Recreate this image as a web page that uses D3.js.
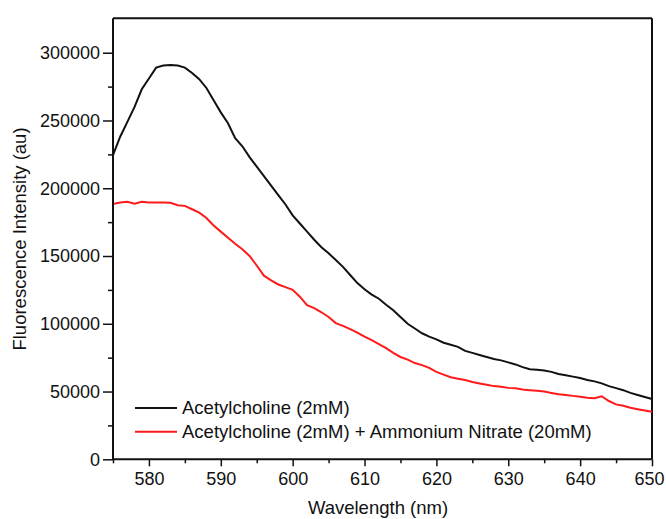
<!DOCTYPE html>
<html>
<head>
<meta charset="utf-8">
<script src="https://cdn.jsdelivr.net/npm/d3@7/dist/d3.min.js"></script>
<style>
  html, body { margin: 0; padding: 0; background: #fff; }
  text { font-family: "Liberation Sans", Arial, Helvetica, sans-serif; fill: #111; }
</style>
</head>
<body>
<svg id="chart" width="666" height="519"></svg>
<script>
const wavelengths = d3.range(575, 651, 1);
const acetylcholine = [
  224500, 238000, 249000, 260000, 273000, 281000, 289000, 290500, 291000, 290500,
  289000, 285000, 280500, 274000, 265000, 256000, 248000, 237000, 231000, 223000,
  216000, 209000, 202000, 195000, 188000, 180000, 174000, 168000, 162000, 156500,
  152000, 147000, 142000, 136000, 130000, 125500, 121500, 118500, 114000, 110000,
  105000, 100000, 96500, 93000, 90500, 88500, 86000, 84500, 83000, 80000,
  78500, 77000, 75500, 74000, 73000, 71500, 70000, 68000, 66500, 66000,
  65500, 64500, 63000, 62000, 61000, 60000, 58500, 57500, 56000, 54000,
  52500, 51000, 49000, 47500, 46000, 44500
];
const acetylcholineNitrate = [
  188400, 189500, 190000, 188500, 190000, 189500, 189500, 189500, 189300, 187500,
  187000, 184500, 182000, 178000, 172500, 168000, 163500, 159000, 155000, 150000,
  143000, 135500, 132000, 129000, 127000, 125000, 120000, 113800, 111500, 108500,
  105000, 100500, 98500, 96000, 93500, 90500, 88000, 85000, 82000, 78500,
  75500, 73500, 71000, 69500, 67500, 64500, 62500, 60500, 59500, 58500,
  57000, 56000, 55000, 54000, 53500, 52700, 52400, 51500, 51000, 50500,
  50000, 49000, 48000, 47500, 46800, 46200, 45500, 45000, 46500, 43000,
  40500, 39500, 38000, 37000, 36000, 35100
];
const seriesNames = ["Acetylcholine (2mM)", "Acetylcholine (2mM) + Ammonium Nitrate (20mM)"];
const seriesColors = ["#111111", "#ff1a1a"];
const xTicks = [580, 590, 600, 610, 620, 630, 640, 650];
const xMinorTicks = [575, 585, 595, 605, 615, 625, 635, 645];
const yTicks = [0, 50000, 100000, 150000, 200000, 250000, 300000];
const yMinorTicks = [25000, 75000, 125000, 175000, 225000, 275000];

const svg = d3.select("#chart");
const L = 113, R = 652, T = 18.3, B = 459.3;
const x = d3.scaleLinear().domain([575, 650]).range([L, R]);
const y = d3.scaleLinear().domain([0, 325400]).range([B, T]);

// frame top/right
svg.append("line").attr("x1", L).attr("x2", R).attr("y1", T).attr("y2", T)
  .attr("stroke", "#111").attr("stroke-width", 2);
svg.append("line").attr("x1", R).attr("x2", R).attr("y1", T).attr("y2", B)
  .attr("stroke", "#111").attr("stroke-width", 2);

// curves
const series = [acetylcholine, acetylcholineNitrate];
const line = d3.line().x((d, i) => x(wavelengths[i])).y(d => y(d));
series.forEach((s, k) => {
  svg.append("path").datum(s).attr("d", line)
    .attr("fill", "none").attr("stroke", seriesColors[k]).attr("stroke-width", 2)
    .attr("stroke-linejoin", "miter");
});

// axes
const xAxis = svg.append("g").attr("transform", `translate(0,${B})`)
  .call(d3.axisBottom(x).tickValues(xTicks).tickSize(7).tickPadding(6).tickFormat(d3.format("d")));
svg.append("g").attr("transform", `translate(0,${B})`)
  .call(d3.axisBottom(x).tickValues(xMinorTicks).tickSize(4).tickFormat(""))
  .call(g => g.select(".domain").remove());
const yAxis = svg.append("g").attr("transform", `translate(${L},0)`)
  .call(d3.axisLeft(y).tickValues(yTicks).tickSize(10).tickPadding(3).tickFormat(d3.format("d")));
svg.append("g").attr("transform", `translate(${L},0)`)
  .call(d3.axisLeft(y).tickValues(yMinorTicks).tickSize(5).tickFormat(""))
  .call(g => g.select(".domain").remove());

svg.selectAll(".domain").attr("stroke", "#111").attr("stroke-width", 2);
svg.selectAll(".tick line").attr("stroke", "#111").attr("stroke-width", 1.5);
svg.selectAll(".tick text").attr("font-size", 18).attr("fill", "#111")
  .attr("font-family", "'Liberation Sans', Arial, sans-serif");
xAxis.selectAll(".domain").attr("d", `M${L},0H${R}`);
// keep last x label inside the canvas
xAxis.selectAll(".tick text").filter(d => d === 650).attr("dx", -3);
yAxis.selectAll(".domain").attr("d", `M0,${B}V${T}`);

// axis titles
svg.append("text").attr("x", 378).attr("y", 514).attr("text-anchor", "middle")
  .attr("font-size", 18.5).text("Wavelength (nm)");
svg.append("text").attr("transform", "translate(26,239) rotate(-90)").attr("text-anchor", "middle")
  .attr("font-size", 18.5).text("Fluorescence Intensity (au)");

// legend
const legendY = [408, 431.7];
seriesNames.forEach((name, k) => {
  svg.append("line").attr("x1", 135).attr("x2", 177).attr("y1", legendY[k]).attr("y2", legendY[k])
    .attr("stroke", seriesColors[k]).attr("stroke-width", 2);
  svg.append("text").attr("x", 182).attr("y", legendY[k]).attr("dy", "0.35em")
    .attr("font-size", 18.5).text(name);
});
</script>
</body>
</html>
